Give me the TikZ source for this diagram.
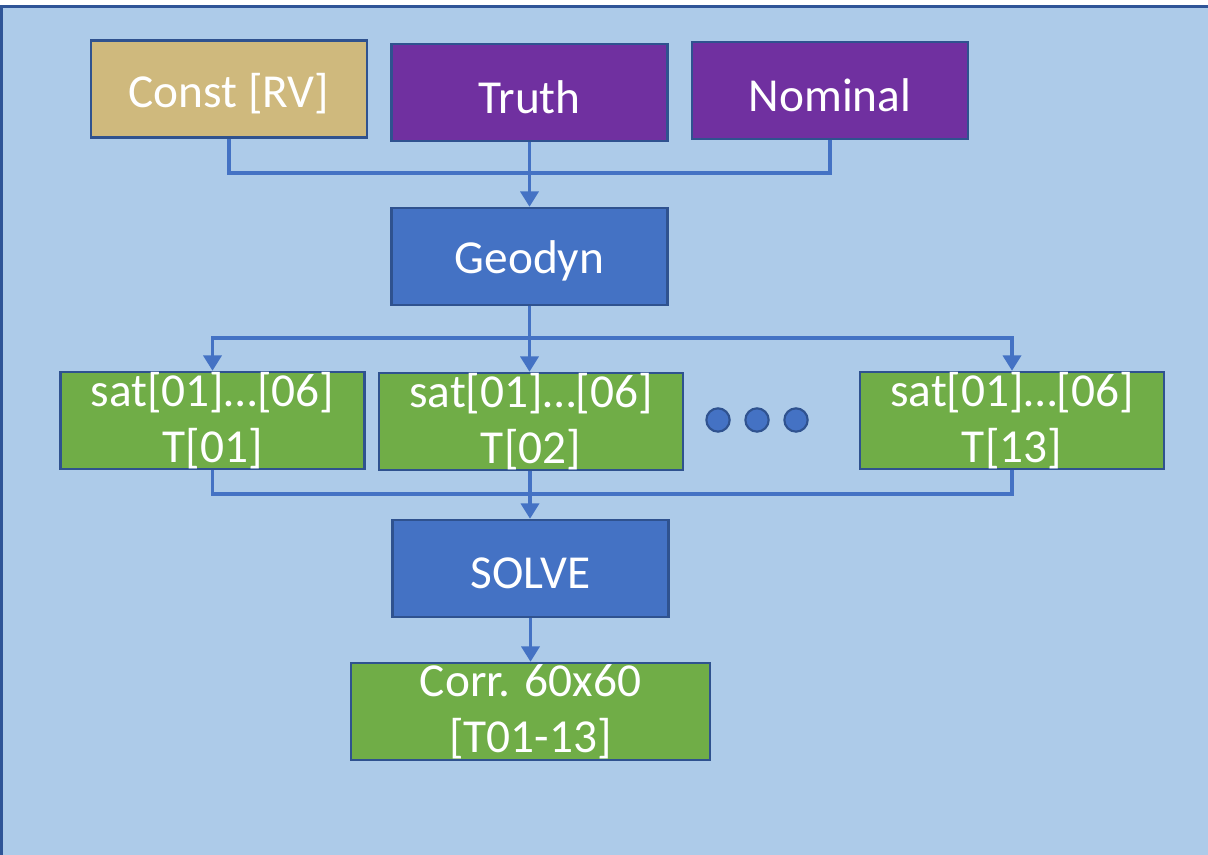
\documentclass[tikz,border=0pt]{standalone}
\usepackage{fontspec}
\setmainfont{Carlito}
\usetikzlibrary{arrows.meta}
\definecolor{bgblue}{RGB}{173,203,233}
\definecolor{frameblue}{RGB}{47,85,151}
\definecolor{boxedge}{RGB}{47,82,143}
\definecolor{tan}{RGB}{207,185,125}
\definecolor{purp}{RGB}{112,48,160}
\definecolor{accblue}{RGB}{68,114,196}
\definecolor{leaf}{RGB}{112,173,71}
\newcommand{\lowtext}[1]{\raisebox{-3.5pt}[\height][\depth]{#1}}
\tikzset{
  box/.style={draw=boxedge, line width=1.8pt, text=white, inner sep=0pt,
    align=center, font=\fontsize{35.5}{42}\selectfont, minimum height=72.75pt},
  topw/.style={minimum width=207pt},
  satw/.style={minimum width=228pt},
  corrw/.style={minimum width=269.25pt},
  conn/.style={draw=accblue, line width=2.6pt},
  arr/.style={conn, -{Triangle[width=13.5pt,length=11.5pt]}},
  dot/.style={circle, draw=boxedge, line width=1.6pt, fill=accblue, minimum size=17.5pt, inner sep=0pt}
}
\begin{document}
\begin{tikzpicture}[x=0.75pt,y=-0.75pt]
\clip (0,0) rectangle (1208,855);
\fill[white] (0,0) rectangle (1208,855);
\draw[fill=bgblue, draw=frameblue, line width=2.25pt] (1,7) rectangle (1230,880);
% top row
\node[box, topw, fill=tan] (const) at (229,89) {\lowtext{Const [RV]}};
\node[box, topw, fill=purp] (truth) at (529.5,92.5) {\lowtext{Truth}};
\node[box, topw, fill=purp] (nominal) at (830,90.5) {\lowtext{Nominal}};
\node[box, topw, fill=accblue] (geodyn) at (529.5,256.5) {\lowtext{Geodyn}};
% sat row
\node[box, satw, fill=leaf] (sat1) at (212.5,420.5) {sat[01]…[06]\\T[01]};
\node[box, satw, fill=leaf] (sat2) at (531,421.5) {sat[01]…[06]\\T[02]};
\node[box, satw, fill=leaf] (sat3) at (1012,420.5) {sat[01]…[06]\\T[13]};
\node[dot] (d1) at (718,420) {};
\node[dot] (d2) at (757,420) {};
\node[dot] (d3) at (796,420) {};
% bottom
\node[box, topw, fill=accblue] (solve) at (530.5,568.5) {\lowtext{SOLVE}};
\node[box, corrw, fill=leaf] (corr) at (530.5,711.5) {Corr. 60x60\\{}[T01-13]};
% connectors
\coordinate (j1) at (529.5,173);
\draw[conn] (const.south) |- (j1) -| (nominal.south);
\draw[arr] (truth.south) -- (geodyn.north);
\coordinate (j2) at (529.5,338);
\draw[conn] (geodyn.south) -- (j2);
\draw[arr] (j2) -| (sat1.north);
\draw[arr] (j2) -| (sat3.north);
\draw[arr] (j2) -- (j2 |- sat2.north);
\coordinate (j3) at (530,494);
\draw[conn] (sat1.south) |- (j3);
\draw[conn] (sat3.south) |- (j3);
\draw[conn] (j3 |- sat2.south) -- (j3);
\draw[arr] (j3) -- (j3 |- solve.north);
\draw[arr] (solve.south) -- (corr.north);
\end{tikzpicture}
\end{document}
